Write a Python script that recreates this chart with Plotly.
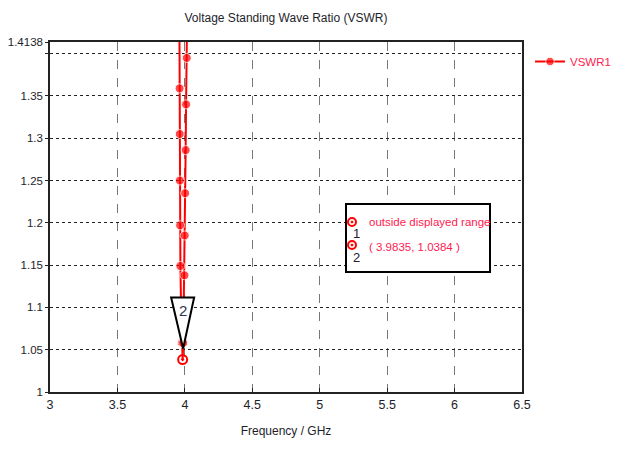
import plotly.graph_objects as go

# ---------------- data ----------------
freq_ghz = [3.959, 3.961, 3.962, 3.963, 3.965, 3.967, 3.972, 3.977, 3.9835,
            3.988, 3.992, 3.997, 3.999, 4.002, 4.006, 4.009, 4.014, 4.018]
vswr = [1.46, 1.359, 1.305, 1.250, 1.197, 1.149, 1.100, 1.058, 1.0384,
        1.058, 1.100, 1.138, 1.185, 1.235, 1.286, 1.340, 1.395, 1.46]
series_name = "VSWR1"

marker_min_x = 3.9835
marker_min_y = 1.0384
marker_label = "2"

x_ticks = [3, 3.5, 4, 4.5, 5, 5.5, 6, 6.5]
x_tick_text = ["3", "3.5", "4", "4.5", "5", "5.5", "6", "6.5"]
y_ticks = [1, 1.05, 1.1, 1.15, 1.2, 1.25, 1.3, 1.35, 1.4, 1.4138]
y_tick_text = ["1", "1.05", "1.1", "1.15", "1.2", "1.25", "1.3", "1.35", "", "1.4138"]

box_lines = ["outside displayed range", "( 3.9835, 1.0384 )"]

# ---------------- style ----------------
RED = "#ff0000"
PINK = "#ff1a4f"
FONT = "Liberation Sans, Arial, sans-serif"
TXT = "#1e1e2a"

OFF = 8  # page body margin
PAGE_W, PAGE_H = 622, 452
W, H = PAGE_W - OFF, PAGE_H - OFF
# plot area in page pixels: x 50..522, y 42..392
L, T = 50 - OFF, 42 - OFF
R, B = W - (522 - OFF), H - (392 - OFF)
PW, PH = W - L - R, H - T - B


def px2paper(px, py):
    """page pixel -> paper fraction"""
    return (px - OFF - L) / PW, (H - B - (py - OFF)) / PH


sizes = [0 if v == marker_min_y else 9 for v in vswr]

fig = go.Figure()
fig.add_trace(go.Scatter(
    x=freq_ghz, y=vswr, mode="lines+markers", name=series_name,
    line=dict(color=RED, width=2),
    marker=dict(color=RED, size=sizes),
))
fig.add_trace(go.Scatter(
    x=[marker_min_x], y=[marker_min_y], mode="markers", showlegend=False,
    marker=dict(symbol="circle-open-dot", color=RED, size=9, line=dict(width=2)),
))

shapes = []
annotations = []

# triangle marker "2" pointing at the minimum
shapes.append(dict(
    type="path", xref="x", yref="y", xsizemode="pixel", ysizemode="pixel",
    xanchor=marker_min_x, yanchor=marker_min_y,
    path="M -11.5 62 L 11.5 62 L 0.5 11 Z",
    fillcolor="white", line=dict(color="black", width=2), layer="above",
))
annotations.append(dict(
    x=marker_min_x, y=marker_min_y, text=marker_label, showarrow=False,
    yshift=49, xshift=0, font=dict(family=FONT, size=15, color="#2a3550"),
))

# info box
bx0, by0 = px2paper(346, 272)
bx1, by1 = px2paper(490, 204)
shapes.append(dict(type="rect", xref="paper", yref="paper",
                   x0=bx0, y0=by0, x1=bx1, y1=by1,
                   fillcolor="white", line=dict(color="black", width=2),
                   layer="above"))
for i, (cy, dy) in enumerate([(222, 233), (245, 257)]):
    cx0, cy0 = px2paper(348, cy + 4)
    cx1, cy1 = px2paper(356, cy - 4)
    shapes.append(dict(type="circle", xref="paper", yref="paper",
                       x0=cx0, y0=cy0, x1=cx1, y1=cy1,
                       line=dict(color=RED, width=2), layer="above"))
    dx0, dy0 = px2paper(351, cy + 1)
    dx1, dy1 = px2paper(353, cy - 1)
    shapes.append(dict(type="circle", xref="paper", yref="paper",
                       x0=dx0, y0=dy0, x1=dx1, y1=dy1,
                       fillcolor=RED, line=dict(color=RED, width=1), layer="above"))
    nx, ny = px2paper(356, dy)
    annotations.append(dict(xref="paper", yref="paper", x=nx, y=ny,
                            text=str(i + 1), showarrow=False,
                            font=dict(family=FONT, size=13, color="#202030")))
for txt, py in zip(box_lines, [222, 247]):
    tx, ty = px2paper(367, py)
    annotations.append(dict(xref="paper", yref="paper", x=tx, y=ty,
                            xanchor="left", yanchor="middle", text=txt,
                            showarrow=False,
                            font=dict(family=FONT, size=11.5, color=PINK)))

fig.update_layout(
    width=W, height=H,
    margin=dict(l=L, r=R, t=T, b=B, autoexpand=False),
    paper_bgcolor="white", plot_bgcolor="white",
    font=dict(family=FONT, size=12, color=TXT),
    title=dict(text="Voltage Standing Wave Ratio (VSWR)",
               x=(286 - OFF) / W, xanchor="center",
               y=1 - (18 - OFF) / H, yanchor="middle",
               font=dict(family=FONT, size=12, color=TXT)),
    showlegend=True,
    legend=dict(x=px2paper(530, 0)[0], y=px2paper(0, 47)[1],
                xanchor="left", yanchor="top",
                font=dict(family=FONT, size=11.5, color=PINK),
                bgcolor="rgba(0,0,0,0)", itemwidth=30),
    shapes=shapes, annotations=annotations,
)
fig.update_xaxes(
    range=[3, 6.5], tickvals=x_ticks, ticktext=x_tick_text, automargin=False,
    showgrid=True, gridcolor="#777777", griddash="dash", gridwidth=1,
    showline=True, mirror=True, linecolor="#222222", linewidth=1.5,
    ticks="inside", ticklen=4, tickcolor="#222222", zeroline=False,
    title=dict(text="Frequency / GHz", standoff=16,
               font=dict(family=FONT, size=12, color=TXT)),
    tickfont=dict(family=FONT, size=12.5, color=TXT),
)
fig.update_yaxes(
    range=[1, 1.4138], tickvals=y_ticks, ticktext=y_tick_text, automargin=False,
    showgrid=True, gridcolor="#222222", griddash="dot", gridwidth=1,
    showline=True, mirror=True, linecolor="#222222", linewidth=1.5,
    ticks="outside", ticklen=3, tickcolor="#222222", zeroline=False,
    tickfont=dict(family=FONT, size=11.5, color=TXT),
)

fig.write_html("out.html")
